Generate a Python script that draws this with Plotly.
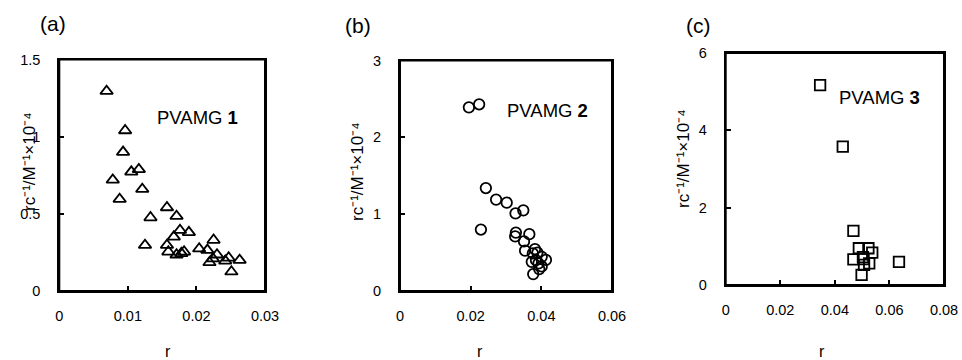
import plotly.graph_objects as go

# ---- data ----
x_a = [0.0069, 0.0096, 0.0093, 0.0078, 0.0105, 0.0116, 0.0088, 0.0121, 0.0157, 0.0171,
       0.0133, 0.0125, 0.0176, 0.0189, 0.0167, 0.0157, 0.0159, 0.0171, 0.0182, 0.0204,
       0.0216, 0.0225, 0.0230, 0.0219, 0.0224, 0.0242, 0.0247, 0.0263, 0.0251, 0.0178]
y_a = [1.295, 1.04, 0.90, 0.72, 0.772, 0.788, 0.595, 0.66, 0.541, 0.485,
       0.476, 0.297, 0.394, 0.38, 0.351, 0.297, 0.254, 0.235, 0.254, 0.274,
       0.265, 0.33, 0.235, 0.185, 0.21, 0.195, 0.215, 0.20, 0.125, 0.244]

x_b = [0.0195, 0.0224, 0.0243, 0.0272, 0.0302, 0.0327, 0.0349, 0.0229, 0.0328, 0.0326,
       0.0366, 0.0351, 0.0354, 0.0382, 0.0376, 0.0389, 0.0401, 0.0413, 0.0373, 0.0392,
       0.0401, 0.0394, 0.0377, 0.0385]
y_b = [2.39, 2.43, 1.34, 1.19, 1.15, 1.01, 1.05, 0.80, 0.76, 0.71,
       0.74, 0.645, 0.525, 0.545, 0.49, 0.50, 0.445, 0.405, 0.38, 0.36,
       0.32, 0.285, 0.22, 0.40]

x_c = [0.0346, 0.0429, 0.0468, 0.0488, 0.0468, 0.0523, 0.0537, 0.0526, 0.0507, 0.0498,
       0.0503, 0.0635, 0.0505]
y_c = [5.17, 3.58, 1.40, 0.95, 0.665, 0.95, 0.835, 0.56, 0.52, 0.26,
       0.72, 0.60, 0.67]

panel_labels = ["(a)", "(b)", "(c)"]
series_labels = ["PVAMG <b>1</b>", "PVAMG <b>2</b>", "PVAMG <b>3</b>"]
x_title = "r"
y_title = "rc\u207b\u00b9/M\u207b\u00b9\u00d710\u207b\u2074"
x_ranges = [[0, 0.03], [0, 0.06], [0, 0.08]]
y_ranges = [[0, 1.5], [0, 3], [0, 6]]
x_dticks = [0.01, 0.02, 0.02]
y_dticks = [0.5, 1, 2]

W, H = 962, 360
FONT = "Arial, 'Liberation Sans', sans-serif"

fig = go.Figure()

# ---- layout geometry (pixels) ----
boxes = [  # left, right, top, bottom
    (59.3, 265.0, 59.5, 291.0),
    (400.0, 612.0, 60.5, 291.0),
    (725.7, 944.0, 53.0, 285.0),
]
symbols = ["triangle-up-open", "circle-open", "square-open"]
sizes = [11, 10.5, 10.5]
xs = [x_a, x_b, x_c]
ys = [y_a, y_b, y_c]

label_pos = [(53, 23), (358, 26), (698, 26)]
xt_pos = [(168, 351), (480, 351), (822, 351)]
yt_pos = [(30, 162), (357, 172), (683, 159)]
series_pos = [(197, 118), (547, 110), (879, 98)]

layout = dict(width=W, height=H,
              margin=dict(l=0, r=0, t=0, b=0, autoexpand=False),
              paper_bgcolor="white", plot_bgcolor="white",
              font=dict(family=FONT, color="black"), showlegend=False)

annotations = []
shapes = []


def paper(px, py):
    return px / W, 1 - py / H


for i, (l, r, t, b) in enumerate(boxes):
    xa = "x" if i == 0 else f"x{i+1}"
    ya = "y" if i == 0 else f"y{i+1}"
    xk = "xaxis" if i == 0 else f"xaxis{i+1}"
    yk = "yaxis" if i == 0 else f"yaxis{i+1}"

    fig.add_trace(go.Scatter(
        x=xs[i], y=ys[i], mode="markers", xaxis=xa, yaxis=ya,
        marker=dict(symbol=symbols[i], size=sizes[i], color="black",
                    line=dict(color="black", width=1.8)),
        showlegend=False, hoverinfo="x+y"))

    ax = dict(showline=True, linecolor="black", linewidth=2, mirror=True,
              ticks="inside", ticklen=5, tickwidth=1.5, tickcolor="black",
              showgrid=False, zeroline=False,
              tickfont=dict(family=FONT, size=14.5, color="black"))
    layout[xk] = dict(ax, domain=[l / W, r / W], range=x_ranges[i],
                      dtick=x_dticks[i], tick0=0, anchor=ya,
                      ticklabelstandoff=11)
    layout[yk] = dict(ax, domain=[(H - b) / H, (H - t) / H],
                      range=y_ranges[i], dtick=y_dticks[i], tick0=0, anchor=xa,
                      ticklabelstandoff=14)

    # frame of the plot area (drawn on the axis domain)
    shapes.append(dict(type="rect", xref=f"{xa} domain", yref=f"{ya} domain",
                       x0=0, x1=1, y0=0, y1=1, layer="above",
                       line=dict(color="black", width=2), fillcolor="rgba(0,0,0,0)"))

    for (px, py), txt, fs, ang in ((label_pos[i], panel_labels[i], 21, 0),
                                   (xt_pos[i], x_title, 16, 0),
                                   (yt_pos[i], y_title, 17, -90),
                                   (series_pos[i], series_labels[i], 18.5, 0)):
        ppx, ppy = paper(px, py)
        annotations.append(dict(text=txt, x=ppx, y=ppy, xref="paper", yref="paper",
                                xanchor="center", yanchor="middle", showarrow=False,
                                textangle=ang,
                                font=dict(family=FONT, size=fs, color="black")))

layout["annotations"] = annotations
layout["shapes"] = shapes
fig.update_layout(**layout)
fig.write_html("out.html")
